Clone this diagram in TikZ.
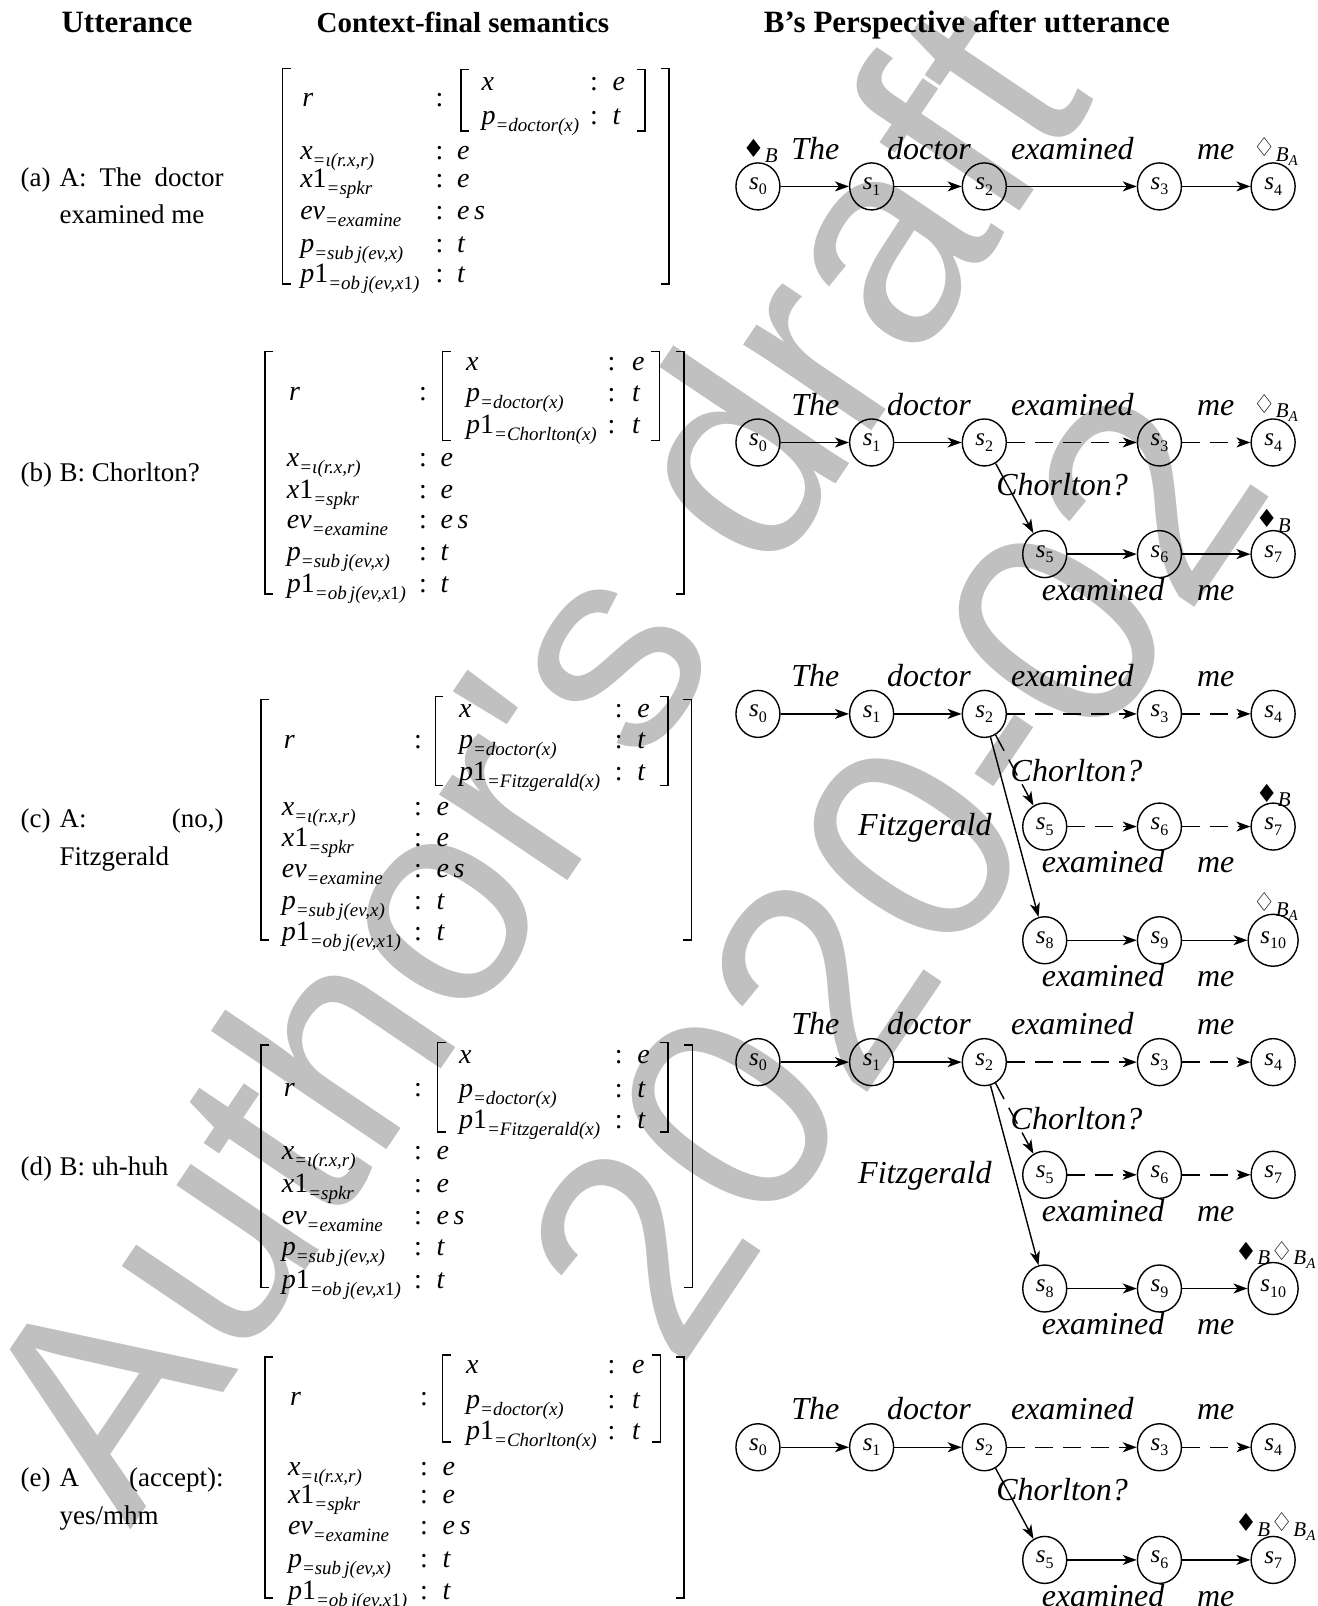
\documentclass[tikz,border=0pt]{standalone}
\usepackage{fontspec}
\setmainfont{Liberation Serif}
\newfontfamily\wmfont{Liberation Sans}
\newfontfamily\djv{DejaVu Sans}
\usetikzlibrary{arrows.meta,shapes.geometric,calc}
\definecolor{wmgray}{RGB}{192,192,192}

\newcommand\sbx[1]{\raisebox{-0.25em}{\fontsize{19}{19}\selectfont\itshape #1}}
\newcommand\ssd[1]{\raisebox{-0.22em}{\fontsize{16}{16}\selectfont #1}}
\newcommand\st[1]{\textit{s}\ssd{#1}}
\newcommand\mkB{{\djv\fontsize{25}{25}\selectfont ♦}\raisebox{-0.22em}{\itshape B}}
\newcommand\mkBA{{\djv\fontsize{26}{26}\selectfont ♢}\raisebox{-0.22em}{\itshape B\raisebox{-0.2em}{\fontsize{15}{15}\selectfont A}}}

\tikzset{
 hdr/.style={font=\fontsize{31}{31}\selectfont\bfseries, inner sep=0, anchor=base},
 utt/.style={font=\fontsize{27}{27}\selectfont, inner sep=0, anchor=mid west},
 lbl/.style={font=\fontsize{28}{28}\selectfont, inner sep=0, anchor=mid west},
 cln/.style={font=\fontsize{28}{28}\selectfont, inner sep=0, anchor=mid},
 brk/.style={line width=1.6pt},
 stn/.style={draw, ellipse, line width=1.4pt, minimum width=44pt, minimum height=47pt, inner sep=0, font=\fontsize{25}{25}\selectfont},
 wd/.style={font=\fontsize{32}{32}\selectfont\itshape, inner sep=0, anchor=mid},
 mk/.style={font=\fontsize{21}{21}\selectfont, inner sep=0, anchor=mid},
 ar/.style={-{Stealth[length=14pt,width=10pt,inset=4pt]}, line width=1.4pt},
 da/.style={ar, dash pattern=on 18pt off 10pt},
 wm/.style={font=\wmfont\fontsize{292}{292}\selectfont, text=wmgray, inner sep=0, anchor=base west, rotate=56},
}

% left bracket: x, top, bottom
\newcommand\lbr[3]{\draw[brk] (#1+8,#2) -- (#1,#2) -- (#1,#3) -- (#1+8,#3);}
\newcommand\rbr[3]{\draw[brk] (#1-8,#2) -- (#1,#2) -- (#1,#3) -- (#1-8,#3);}
% row: name, label x, colon x, value x, y, label, value
\newcommand\arow[7]{\node[lbl] (#1l) at (#2,#5+6) {#6}; \node[cln] (#1c) at (#3,#5+6) {:}; \node[lbl] (#1v) at (#4,#5+6) {#7};}
% standard five rows: prefix, lx, cx, vx, y1..y5
\newcommand\stdrows[9]{%
 \arow{#1r1}{#2}{#3}{#4}{#5}{\textit{x}\sbx{=ι(r.x,r)}}{\textit{e}}
 \arow{#1r2}{#2}{#3}{#4}{#6}{\textit{x}1\sbx{=spkr}}{\textit{e}}
 \arow{#1r3}{#2}{#3}{#4}{#7}{\textit{ev}\sbx{=examine}}{\textit{e\,s}}
 \arow{#1r4}{#2}{#3}{#4}{#8}{\textit{p}\sbx{=sub\,j(ev,x)}}{\textit{t}}
 \arow{#1r5}{#2}{#3}{#4}{#9}{\textit{p}1\sbx{=ob\,j(ev,x{\upshape 1})}}{\textit{t}}}
% top row of a graph: prefix, y, style of s2-s3-s4 edges
\newcommand\toprow[3]{%
 \node[stn] (#10) at (740,#2) {\st0};
 \node[stn] (#11) at (851,#2) {\st1};
 \node[stn] (#12) at (961,#2) {\st2};
 \node[stn] (#13) at (1132,#2) {\st3};
 \node[stn] (#14) at (1243,#2) {\st4};
 \draw[ar] (#10) -- (#11);
 \draw[ar] (#11) -- (#12);
 \draw[#3] (#12) -- (#13);
 \draw[#3] (#13) -- (#14);
 \node[wd] (#1w1) at (796,#2-29) {The};
 \node[wd] (#1w2) at (907,#2-29) {doctor};
 \node[wd] (#1w3) at (1047,#2-29) {examined};
 \node[wd] (#1w4) at (1187,#2-29) {me};}
% lower row: prefix, y, index a, b, c, edge style
\newcommand\lowrow[6]{%
 \node[stn] (#1#3) at (1020,#2) {\st{#3}};
 \node[stn] (#1#4) at (1132,#2) {\st{#4}};
 \node[stn] (#1#5) at (1243,#2) {\st{#5}};
 \draw[#6] (#1#3) -- (#1#4);
 \draw[#6] (#1#4) -- (#1#5);
 \node[wd] (#1e#3) at (1077,#2+43) {examined};
 \node[wd] (#1m#3) at (1187,#2+43) {me};}

\begin{document}
\begin{tikzpicture}[x=1.0241pt,y=-1.0241pt]
\useasboundingbox (0,0) rectangle (1286,1568);
\fill[white] (0,0) rectangle (1286,1568);

% watermark
\node[wm] (wm1) at (127,1494) {Author's draft};
\node[wm] (wm2) at (662,1341) {2020-02};

% headers
\node[hdr] (h1) at (124,32) {Utterance};
\node[hdr, font=\fontsize{29}{29}\selectfont\bfseries] (h2) at (452,32) {Context-final semantics};
\node[hdr] (h3) at (944,32) {B’s Perspective after utterance};

% utterances
\node[utt] (ua0) at (20,180) {(a)};
\node[utt] (ua1) at (58,180) {\makebox[164pt][s]{A: The doctor}};
\node[utt] (ua2) at (58,216) {examined me};
\node[utt] (ub0) at (20,468) {(b)};
\node[utt] (ub1) at (58,468) {B: Chorlton?};
\node[utt] (uc0) at (20,806) {(c)};
\node[utt] (uc1) at (58,806) {\makebox[164pt][s]{A: (no,)}};
\node[utt] (uc2) at (58,843) {Fitzgerald};
\node[utt] (ud0) at (20,1145) {(d)};
\node[utt] (ud1) at (58,1145) {B: uh-huh};
\node[utt] (ue0) at (20,1449) {(e)};
\node[utt] (ue1) at (58,1449) {\makebox[164pt][s]{A (accept):}};
\node[utt] (ue2) at (58,1486) {yes/mhm};

% AVM (a)
\lbr{276}{67}{277} \rbr{653}{67}{277}
\node[lbl] (aR) at (295,102) {\textit{r}};
\node[cln] (aRc) at (429,102) {:};
\lbr{450}{68}{128} \rbr{630}{68}{128}
\arow{ai1}{470}{580}{598}{80}{\textit{x}}{\textit{e}}
\arow{ai2}{470}{580}{598}{113}{\textit{p}\sbx{=doctor(x)}}{\textit{t}}
\stdrows{a}{293}{429}{446}{147}{175}{206}{238}{268}

% AVM (b)
\lbr{259}{343}{580} \rbr{668}{343}{580}
\node[lbl] (bR) at (282,389) {\textit{r}};
\node[cln] (bRc) at (413,389) {:};
\lbr{432}{343}{430} \rbr{644}{343}{430}
\arow{bi1}{455}{597}{617}{353}{\textit{x}}{\textit{e}}
\arow{bi2}{455}{597}{617}{384}{\textit{p}\sbx{=doctor(x)}}{\textit{t}}
\arow{bi3}{455}{597}{617}{415}{\textit{p}1\sbx{=Chorlton(x)}}{\textit{t}}
\stdrows{b}{280}{413}{430}{447}{478}{508}{539}{570}

% AVM (c)
\lbr{255}{683}{918} \rbr{675}{683}{918}
\node[lbl] (cR) at (277,729) {\textit{r}};
\node[cln] (cRc) at (408,729) {:};
\lbr{425}{680}{767} \rbr{652}{680}{767}
\arow{ci1}{448}{604}{622}{692}{\textit{x}}{\textit{e}}
\arow{ci2}{448}{604}{622}{723}{\textit{p}\sbx{=doctor(x)}}{\textit{t}}
\arow{ci3}{448}{604}{622}{754}{\textit{p}1\sbx{=Fitzgerald(x)}}{\textit{t}}
\stdrows{c}{275}{408}{426}{788}{818}{848}{880}{910}

% AVM (d)
\lbr{255}{1020}{1257} \rbr{676}{1020}{1257}
\node[lbl] (dR) at (277,1068) {\textit{r}};
\node[cln] (dRc) at (408,1068) {:};
\lbr{427}{1018}{1105} \rbr{652}{1018}{1105}
\arow{di1}{448}{604}{622}{1030}{\textit{x}}{\textit{e}}
\arow{di2}{448}{604}{622}{1063}{\textit{p}\sbx{=doctor(x)}}{\textit{t}}
\arow{di3}{448}{604}{622}{1094}{\textit{p}1\sbx{=Fitzgerald(x)}}{\textit{t}}
\stdrows{d}{275}{408}{426}{1124}{1156}{1187}{1218}{1250}

% AVM (e)
\lbr{259}{1325}{1560} \rbr{668}{1325}{1560}
\node[lbl] (eR) at (283,1370) {\textit{r}};
\node[cln] (eRc) at (414,1370) {:};
\lbr{432}{1323}{1408} \rbr{645}{1323}{1408}
\arow{ei1}{455}{597}{617}{1333}{\textit{x}}{\textit{e}}
\arow{ei2}{455}{597}{617}{1367}{\textit{p}\sbx{=doctor(x)}}{\textit{t}}
\arow{ei3}{455}{597}{617}{1397}{\textit{p}1\sbx{=Chorlton(x)}}{\textit{t}}
\stdrows{e}{281}{414}{432}{1432}{1460}{1490}{1522}{1553}

% graph (a)
\toprow{a}{182}{ar}
\node[mk] (am1) at (742,152) {\mkB};
\node[mk] (am2) at (1245,151) {\mkBA};

% graph (b)
\toprow{b}{432}{da}
\lowrow{b}{541}{5}{6}{7}{ar}
\draw[ar] (b2) -- (b5);
\node[wd] (bch) at (1037,482) {Chorlton?};
\node[mk] (bm1) at (1245,401) {\mkBA};
\node[mk] (bm2) at (1243,513) {\mkB};

% graph (c)
\toprow{c}{697}{da}
\lowrow{c}{807}{5}{6}{7}{da}
\node[stn] (c8) at (1020,918) {\st8};
\node[stn] (c9) at (1132,918) {\st9};
\node[stn, minimum width=50pt, minimum height=52pt] (c10) at (1243,918) {\st{10}};
\draw[ar] (c8) -- (c9);
\draw[ar] (c9) -- (c10);
\node[wd] (ce8) at (1077,961) {examined};
\node[wd] (cm8) at (1187,961) {me};
\draw[da] (c2) -- (c5);
\draw[ar] (c2) -- (c8);
\node[wd] (cch) at (1051,761) {Chorlton?};
\node[wd] (cfz) at (903,813) {Fitzgerald};
\node[mk] (cm1) at (1243,781) {\mkB};
\node[mk] (cm2) at (1245,888) {\mkBA};

% graph (d)
\toprow{d}{1037}{da}
\lowrow{d}{1147}{5}{6}{7}{da}
\node[stn] (d8) at (1020,1258) {\st8};
\node[stn] (d9) at (1132,1258) {\st9};
\node[stn, minimum width=50pt, minimum height=52pt] (d10) at (1243,1258) {\st{10}};
\draw[ar] (d8) -- (d9);
\draw[ar] (d9) -- (d10);
\node[wd] (de8) at (1077,1301) {examined};
\node[wd] (dm8) at (1187,1301) {me};
\draw[da] (d2) -- (d5);
\draw[ar] (d2) -- (d8);
\node[wd] (dch) at (1051,1101) {Chorlton?};
\node[wd] (dfz) at (903,1153) {Fitzgerald};
\node[mk] (dm1) at (1245,1228) {\mkB\mkBA};

% graph (e)
\toprow{e}{1413}{da}
\lowrow{e}{1523}{5}{6}{7}{ar}
\draw[ar] (e2) -- (e5);
\node[wd] (ech) at (1037,1463) {Chorlton?};
\node[mk] (em1) at (1245,1493) {\mkB\mkBA};
\end{tikzpicture}
\end{document}
